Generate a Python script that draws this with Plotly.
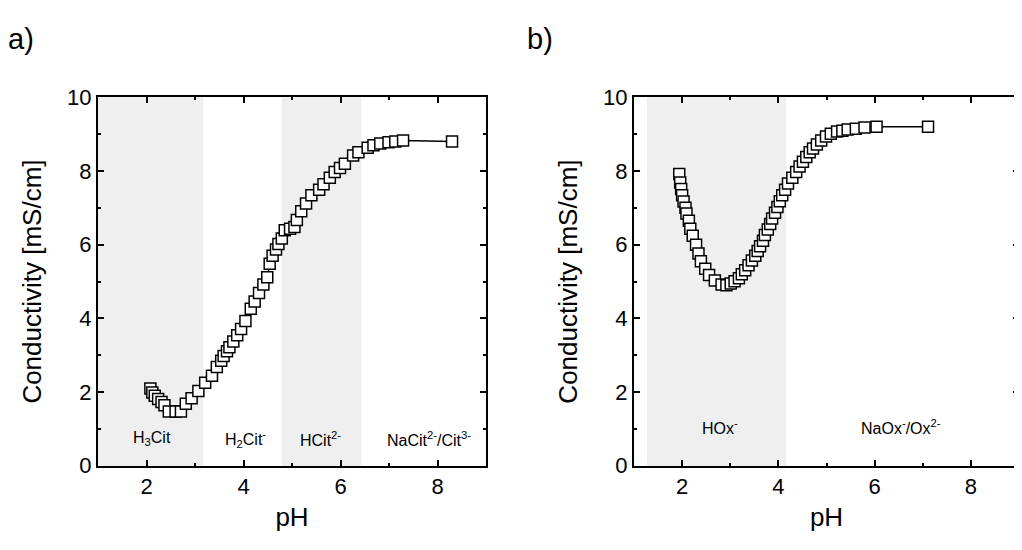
import plotly.graph_objects as go

# ---- data: panel a) citrate ----
ph_cit = [2.08, 2.12, 2.17, 2.24, 2.31, 2.37, 2.46, 2.60, 2.71, 2.81, 2.93, 3.07, 3.21, 3.35,
          3.45, 3.54, 3.59, 3.66, 3.71, 3.79, 3.87, 3.95, 4.04, 4.15, 4.23, 4.32, 4.41, 4.49,
          4.54, 4.60, 4.67, 4.72, 4.79, 4.85, 4.96, 5.05, 5.10, 5.19, 5.29, 5.40, 5.56, 5.65,
          5.78, 5.88, 5.99, 6.09, 6.26, 6.37, 6.56, 6.68, 6.82, 6.99, 7.13, 7.29, 8.30]
cond_cit = [2.10, 1.99, 1.90, 1.81, 1.73, 1.64, 1.47, 1.47, 1.47, 1.68, 1.83, 2.03, 2.25, 2.44,
            2.68, 2.85, 2.98, 3.11, 3.22, 3.37, 3.54, 3.71, 3.93, 4.26, 4.46, 4.69, 4.92, 5.12,
            5.48, 5.70, 5.87, 6.02, 6.17, 6.39, 6.43, 6.48, 6.67, 6.91, 7.12, 7.34, 7.49, 7.64,
            7.82, 7.97, 8.08, 8.20, 8.42, 8.51, 8.63, 8.70, 8.75, 8.78, 8.80, 8.83, 8.80]

# ---- data: panel b) oxalate ----
ph_ox = [1.94, 1.96, 1.98, 2.00, 2.03, 2.07, 2.09, 2.14, 2.17, 2.22, 2.29, 2.34, 2.39, 2.48,
         2.56, 2.68, 2.82, 2.92, 3.01, 3.09, 3.18, 3.24, 3.31, 3.38, 3.45, 3.52, 3.57, 3.62,
         3.68, 3.72, 3.78, 3.83, 3.87, 3.93, 3.98, 4.03, 4.08, 4.14, 4.20, 4.29, 4.37, 4.44,
         4.51, 4.58, 4.65, 4.72, 4.80, 4.89, 4.99, 5.09, 5.22, 5.33, 5.44, 5.61, 5.79, 6.04, 7.11]
cond_ox = [7.92, 7.69, 7.51, 7.34, 7.17, 7.00, 6.85, 6.65, 6.43, 6.24, 6.00, 5.76, 5.55, 5.35,
           5.18, 5.03, 4.92, 4.90, 4.95, 5.01, 5.09, 5.20, 5.31, 5.44, 5.57, 5.70, 5.83, 5.96,
           6.11, 6.26, 6.41, 6.56, 6.71, 6.87, 7.02, 7.18, 7.34, 7.49, 7.66, 7.82, 7.97, 8.12,
           8.25, 8.38, 8.51, 8.61, 8.72, 8.83, 8.94, 9.01, 9.07, 9.09, 9.13, 9.15, 9.18, 9.20, 9.20]

# shaded pH regions and species labels
cit_shaded = [(1.0, 3.17), (4.79, 6.43)]
ox_shaded = [(1.27, 4.16)]
cit_labels = ["H<sub>3</sub>Cit", "H<sub>2</sub>Cit<sup>-</sup>", "HCit<sup>2-</sup>",
              "NaCit<sup>2-</sup>/Cit<sup>3-</sup>"]
cit_label_ph = [2.12, 4.04, 5.58, 7.83]
cit_label_y = 0.73
ox_labels = ["HOx<sup>-</sup>", "NaOx<sup>-</sup>/Ox<sup>2-</sup>"]
ox_label_ph = [2.79, 6.54]
ox_label_y = 1.04

FONT = "Liberation Sans, Arial, sans-serif"
W, H = 1022, 550
OFF = 8  # page body margin offset in the browser


def px_x(p):
    return (p - OFF) / W


def px_y(p):
    return 1 - (p - OFF) / H


fig = go.Figure()
marker = dict(symbol="square", size=11, color="white", line=dict(color="black", width=1.5))
fig.add_trace(go.Scatter(x=ph_cit, y=cond_cit, mode="lines+markers", marker=marker,
                         line=dict(color="black", width=1.5), xaxis="x", yaxis="y",
                         showlegend=False))
fig.add_trace(go.Scatter(x=ph_ox, y=cond_ox, mode="lines+markers", marker=marker,
                         line=dict(color="black", width=1.5), xaxis="x2", yaxis="y2",
                         showlegend=False))

shapes = []
for x0, x1 in cit_shaded:
    shapes.append(dict(type="rect", xref="x", yref="y domain", x0=x0, x1=x1, y0=0, y1=1,
                       fillcolor="#efefef", line=dict(width=0), layer="below"))
for x0, x1 in ox_shaded:
    shapes.append(dict(type="rect", xref="x2", yref="y2 domain", x0=x0, x1=x1, y0=0, y1=1,
                       fillcolor="#efefef", line=dict(width=0), layer="below"))

annotations = []
for t, xp in zip(cit_labels, cit_label_ph):
    annotations.append(dict(text=t, x=xp, y=cit_label_y, xref="x", yref="y", showarrow=False,
                            font=dict(size=16, color="black", family=FONT)))
for t, xp in zip(ox_labels, ox_label_ph):
    annotations.append(dict(text=t, x=xp, y=ox_label_y, xref="x2", yref="y2", showarrow=False,
                            font=dict(size=16, color="black", family=FONT)))
annotations.append(dict(text="a)", x=px_x(6), y=px_y(28), xref="paper", yref="paper", showarrow=False,
                        xanchor="left", yanchor="middle", font=dict(size=29, color="black", family=FONT)))
annotations.append(dict(text="b)", x=px_x(525), y=px_y(28), xref="paper", yref="paper", showarrow=False,
                        xanchor="left", yanchor="middle", font=dict(size=29, color="black", family=FONT)))


def xax(domain, anchor):
    return dict(domain=domain, anchor=anchor, range=[1, 9], tickvals=[2, 4, 6, 8],
                ticks="inside", ticklen=6, tickwidth=2, tickcolor="black",
                minor=dict(ticks="inside", tickvals=[1, 3, 5, 7, 9], ticklen=3, tickwidth=2, tickcolor="black"),
                showline=True, linewidth=2, linecolor="black", mirror="allticks",
                showgrid=False, zeroline=False,
                tickfont=dict(size=22, color="black", family=FONT),
                title=dict(text="pH", font=dict(size=26, color="black", family=FONT), standoff=10))


def yax(domain, anchor):
    return dict(domain=domain, anchor=anchor, range=[0, 10], tickvals=[0, 2, 4, 6, 8, 10],
                ticks="inside", ticklen=6, tickwidth=2, tickcolor="black",
                minor=dict(ticks="inside", tickvals=[1, 3, 5, 7, 9], ticklen=3, tickwidth=2, tickcolor="black"),
                showline=True, linewidth=2, linecolor="black", mirror="allticks",
                showgrid=False, zeroline=False,
                tickfont=dict(size=22, color="black", family=FONT),
                title=dict(text="Conductivity [mS/cm]", font=dict(size=26, color="black", family=FONT),
                           standoff=18))


ydom = [px_y(475), px_y(89)]
fig.update_layout(
    width=W, height=H,
    margin=dict(l=0, r=0, t=0, b=0),
    paper_bgcolor="white", plot_bgcolor="white",
    font=dict(family=FONT, color="black"),
    xaxis=xax([px_x(98), px_x(486)], "y"),
    yaxis=yax(ydom, "x"),
    xaxis2=xax([px_x(634), px_x(1019)], "y2"),
    yaxis2=yax(ydom, "x2"),
    shapes=shapes,
    annotations=annotations,
)

fig.write_html("out.html")
